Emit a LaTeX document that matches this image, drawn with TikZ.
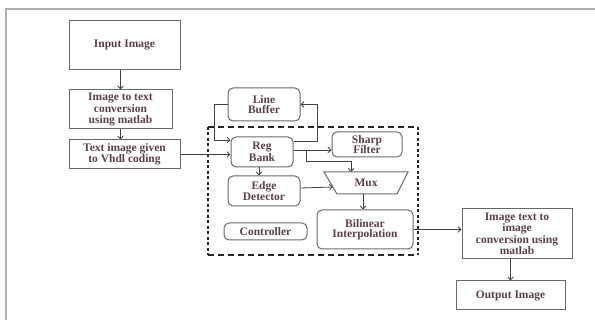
\documentclass[tikz,border=0pt]{standalone}
\usepackage{fontspec}
\setmainfont{Liberation Serif}
\usetikzlibrary{positioning}
\usetikzlibrary{arrows.meta}
\definecolor{boxgray}{RGB}{105,105,105}
\definecolor{linegray}{RGB}{65,65,65}
\definecolor{labelcol}{RGB}{90,62,72}
\definecolor{framegray}{RGB}{175,175,175}

\begin{document}
\begin{tikzpicture}
	[x=1pt, y=-1pt,
	lbl/.style={text=labelcol, font=\fontsize{11.5}{10.5}\selectfont\bfseries, align=center, inner sep=1pt},
	block/.style={lbl, rectangle, draw=boxgray, line width=1pt},
	rblock/.style={block, rounded corners=5pt},
	arr/.style={-{Straight Barb[length=3pt,width=5.5pt]}, draw=linegray, line width=0.8pt},
	dashline/.style={draw=black!85, line width=1.5pt, dash pattern=on 6pt off 4pt},
	dotline/.style={draw=black!85, line width=2pt, dash pattern=on 3pt off 2.5pt}]
	\useasboundingbox (0,0) rectangle (595,320);
	\draw[framegray, line width=1.5pt] (6,320) -- (6,9) -- (595,9);

	\node[block, minimum width=111, minimum height=49] (input) at (124.5,45.5) {Input Image};
	\node[block, minimum width=103, minimum height=39, below=19pt of input, xshift=-4pt] (totext) {Image to text\\conversion\\using matlab};
	\node[block, minimum width=111, minimum height=29, below=10pt of totext, xshift=4pt] (tovhdl) {Text image given\\to Vhdl coding};

	\node[rblock, minimum width=62, minimum height=30] (regbank) at (262,152) {Reg\\Bank};
	\node[rblock, minimum width=72, minimum height=33, above=15pt of regbank, xshift=2pt] (linebuf) {Line\\Buffer};
	\node[rblock, minimum width=72, minimum height=30, below=8pt of regbank, xshift=2pt] (edge) {Edge\\Detector};
	\node[rblock, minimum width=83, minimum height=17, below=16pt of edge, xshift=1.5pt] (ctrl) {Controller};
	\node[rblock, minimum width=70, minimum height=25] (sharp) at (367,144.5) {Sharp\\Filter};
	\node[rblock, minimum width=96, minimum height=39] (bilin) at (365,229.5) {Bilinear\\Interpolation};

	\coordinate (mtl) at (324,172);
	\coordinate (mtr) at (408,172);
	\coordinate (mbr) at (397,194);
	\coordinate (mbl) at (337,194);
	\draw[boxgray, line width=1pt] (mtl) -- (mtr) -- (mbr) -- (mbl) -- cycle;
	\node[lbl] (mux) at (366,183) {Mux};
	\coordinate (muxin) at (351,172);
	\coordinate (muxleft) at (333,187);
	\coordinate (muxout) at (363,194);

	\draw[dashline] (208,127) -- (418,127);
	\draw[dashline] (208,255) -- (418,255);
	\draw[dotline] (208,127) -- (208,255);
	\draw[dotline] (418,127) -- (418,255);

	\node[block, minimum width=110, minimum height=50] (toimg) at (517,234) {Image text to\\image\\conversion using\\matlab};
	\node[block, minimum width=109, minimum height=29, below=21pt of toimg, xshift=-6.5pt] (output) {Output Image};

	\draw[arr] (input.south -| totext.north) -- (totext.north);
	\draw[arr] (totext.south) -- (totext.south |- tovhdl.north);
	\draw[arr] (tovhdl.east) -- (tovhdl.east -| regbank.west);
	\draw[arr] (linebuf.west) -- ++(-13,0) |- ([yshift=12pt]regbank.west);
	\draw[arr] ([yshift=11pt]regbank.east) -- ++(24,0) |- (linebuf.east);
	\draw[arr] ([yshift=2pt]regbank.east) -- ([yshift=2pt]regbank.east -| sharp.west);
	\draw[arr] ([yshift=2pt]regbank.east) -- ++(13,0) -- ++(0,11) -| (muxin);
	\draw[arr] ([xshift=-3pt]regbank.south) -- ([xshift=-3pt]regbank.south |- edge.north);
	\draw[arr] ([yshift=3pt]edge.east) -- (muxleft);
	\draw[arr] (muxout) -- (muxout |- bilin.north);
	\draw[arr] (bilin.east) -- (bilin.east -| toimg.west);
	\draw[arr] (toimg.south -| output.north) -- (output.north);
\end{tikzpicture}
\end{document}
